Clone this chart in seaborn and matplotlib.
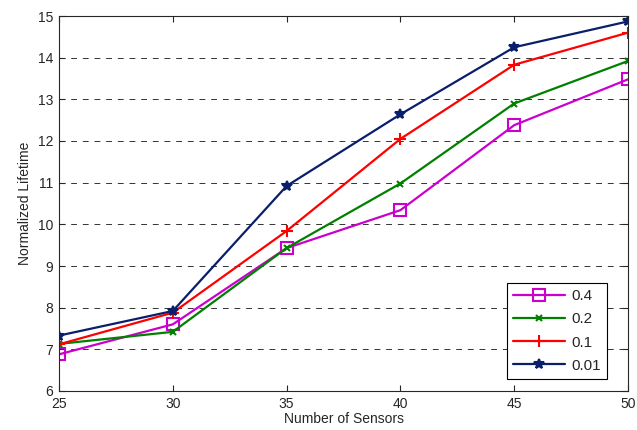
import pandas as pd
import seaborn as sns
import matplotlib.pyplot as plt

sns.set_style("ticks")
plt.rcParams['font.family'] = ['Liberation Sans', 'DejaVu Sans']

# Datos
sensors = [25, 30, 35, 40, 45, 50]
lt_04 = [6.88, 7.60, 9.43, 10.34, 12.38, 13.48]
lt_02 = [7.13, 7.42, 9.43, 10.98, 12.90, 13.92]
lt_01 = [7.12, 7.88, 9.84, 12.05, 13.83, 14.60]
lt_001 = [7.33, 7.92, 10.92, 12.64, 14.25, 14.87]
labels = ['0.4', '0.2', '0.1', '0.01']

df = pd.DataFrame({
    'sensors': sensors * 4,
    'lifetime': lt_04 + lt_02 + lt_01 + lt_001,
    'param': [l for l in labels for _ in sensors],
})

colors = {'0.4': '#CC00CC', '0.2': '#008000', '0.1': '#FF0000', '0.01': '#0A1F6B'}
markers = {'0.4': 's', '0.2': 'x', '0.1': '+', '0.01': '*'}
msizes = {'0.4': 8, '0.2': 5, '0.1': 8, '0.01': 7}

fig = plt.figure(figsize=(6.37, 4.30), dpi=100)
ax = fig.add_axes([59 / 637, 39 / 430, 569 / 637, 375 / 430])

for lab in labels:
    sub = df[df['param'] == lab]
    mfc = 'none' if lab == '0.4' else colors[lab]
    sns.lineplot(data=sub, x='sensors', y='lifetime', ax=ax, color=colors[lab],
                 marker=markers[lab], markersize=msizes[lab],
                 markerfacecolor=mfc, markeredgecolor=colors[lab],
                 markeredgewidth=1.5, linewidth=1.6, label=lab)

ax.set_xlim(25, 50)
ax.set_ylim(6, 15)
ax.set_xticks([25, 30, 35, 40, 45, 50])
ax.set_yticks(range(6, 16))
ax.yaxis.grid(True, linestyle=(0, (6, 6)), color='#333333', linewidth=0.7)
ax.xaxis.grid(False)
ax.tick_params(direction='in', labelsize=10, length=4, pad=4, top=True, right=True)
for s in ax.spines.values():
    s.set_linewidth(0.8)
    s.set_visible(True)
ax.set_xlabel('Number of Sensors', fontsize=10, labelpad=1)
ax.set_ylabel('Normalized Lifetime', fontsize=10, labelpad=4)

leg = ax.legend(loc='lower right', bbox_to_anchor=(0.976, 0.012), fontsize=11,
                frameon=True, fancybox=False, edgecolor='black', framealpha=1,
                handlelength=3.4, handletextpad=0.4, borderpad=0.4, labelspacing=0.6)
leg.get_frame().set_linewidth(0.8)

plt.savefig('out.png', dpi=100)
plt.close()
